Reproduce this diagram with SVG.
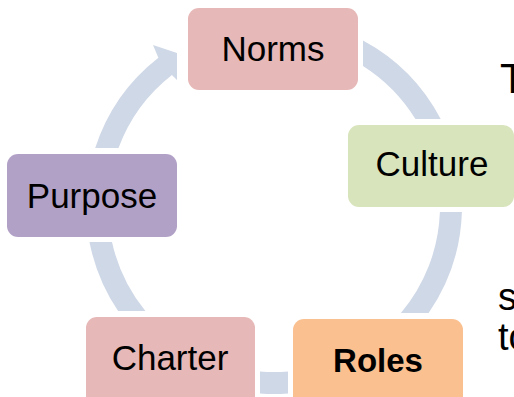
<svg xmlns="http://www.w3.org/2000/svg" width="514" height="397" viewBox="0 0 514 397">
<style>
.ring{fill:#cfd8e7;stroke:none}
.box{stroke:none}
.lbl{font-family:"Liberation Sans",Arial,sans-serif;font-size:35px;fill:#000;text-anchor:middle}
.side{font-family:"Liberation Sans",Arial,sans-serif;fill:#000}
</style>
<rect width="514" height="397" fill="#ffffff"/>
<g id="connectors">
<path class="ring" d="M95.2,148 A188,188 0 0 1 158.4,57.7 L153,45 L177,53 L177,80 L171.9,75 A166,166 0 0 0 118.5,148 Z"/>
<path class="ring" d="M363,40.4 A188,188 0 0 1 440.7,119 L415.4,119 A166,166 0 0 0 363,65.9 Z"/>
<path class="ring" d="M461.9,212 A188,188 0 0 1 428.6,313 L400.9,313 A166,166 0 0 0 439.9,212 Z"/>
<path class="ring" d="M288,371.4 L288,393.5 A188,188 0 0 1 260,393.5 L260,371.4 A166,166 0 0 0 288,371.4 Z"/>
<path class="ring" d="M118.1,311 A188,188 0 0 1 89.5,242 L112,242 A166,166 0 0 0 145.4,311 Z"/>
</g>
<g id="norms">
<rect class="box" x="188" y="8" width="170" height="82" rx="11" fill="#e6b8b7"/>
<text class="lbl" x="273" y="61">Norms</text>
</g>
<g id="culture">
<rect class="box" x="348" y="125" width="166" height="82" rx="11" fill="#d8e4bc"/>
<text class="lbl" x="432" y="176">Culture</text>
</g>
<g id="roles">
<rect class="box" x="293" y="319" width="170" height="90" rx="11" fill="#fac090"/>
<text class="lbl" x="378" y="372" style="font-weight:bold;font-size:33px">Roles</text>
</g>
<g id="charter">
<rect class="box" x="86" y="317" width="169" height="92" rx="11" fill="#e6b8b7"/>
<text class="lbl" x="170" y="370">Charter</text>
</g>
<g id="purpose">
<rect class="box" x="7" y="154" width="170" height="83" rx="11" fill="#b2a1c7"/>
<text class="lbl" x="92" y="208">Purpose</text>
</g>
<g id="side-text">
<text class="side" x="500" y="93" font-size="42">T</text>
<text class="side" x="498" y="310" font-size="38">s</text>
<text class="side" x="498" y="350" font-size="38">to</text>
</g>
</svg>
